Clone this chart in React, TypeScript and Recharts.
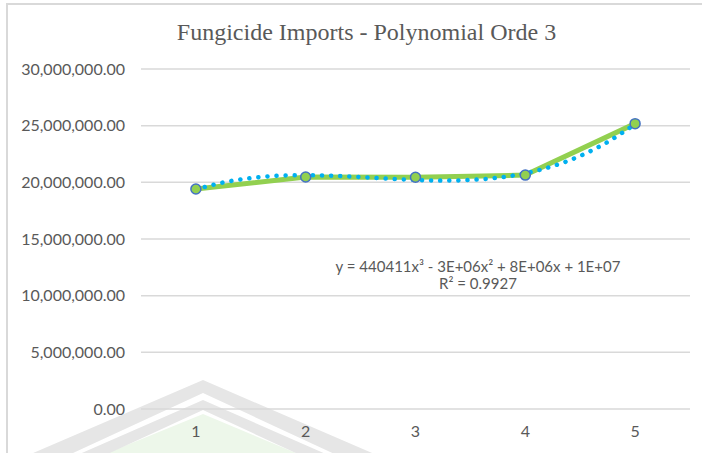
import React from 'react';
import { LineChart, Line, XAxis, YAxis, CartesianGrid } from 'recharts';

const periods = [1, 2, 3, 4, 5];
const imports = [19410000, 20470000, 20450000, 20640000, 25180000];

// dotted polynomial (order 3) trendline, read at quarter steps
const trendX = [1, 1.25, 1.5, 1.75, 2, 2.25, 2.5, 2.75, 3, 3.25, 3.5, 3.75, 4, 4.25, 4.5, 4.75, 5];
const trendY = [
  19370000, 19990000, 20380000, 20580000, 20630000, 20580000, 20460000, 20320000, 20210000,
  20150000, 20210000, 20410000, 20800000, 21430000, 22330000, 23560000, 25140000,
];

const yTicks = [0, 5000000, 10000000, 15000000, 20000000, 25000000, 30000000];

const equation = 'y = 440411x³ - 3E+06x² + 8E+06x + 1E+07';
const rSquared = 'R² = 0.9927';

const rows = trendX.map((x, i) => {
  const k = periods.indexOf(x);
  return { x, trend: trendY[i], imports: k >= 0 ? imports[k] : null };
});

const fmt = (v: number) =>
  v.toLocaleString('en-US', { minimumFractionDigits: 2, maximumFractionDigits: 2 });

const labelFont = 'Lato, "Open Sans", sans-serif';

// faint page watermark behind the chart
const Watermark = () => (
  <svg width={702} height={453} style={{ position: 'absolute', left: 0, top: 0 }}>
    <polygon points="203,414 420,505 -20,505" fill="#edf7ea" />
    <polygon points="203,380 430,478 410,489 203,393 -5,489 -25,478" fill="#e6e6e6" />
    <polygon points="203,400 410,491 395,499 203,410 10,499 -5,491" fill="#e6e6e6" />
  </svg>
);

export default function App() {
  return (
    <div style={{ position: 'absolute', left: 0, top: 0, width: 702, height: 453, background: '#fff', overflow: 'hidden' }}>
      <Watermark />
      <div
        style={{
          position: 'absolute', left: 6, top: 3, width: 720, height: 500,
          borderLeft: '2px solid #d9d9d9', borderTop: '2px solid #d9d9d9',
        }}
      />
      <div
        style={{
          position: 'absolute', left: 0, top: 19, width: 733, textAlign: 'center',
          fontFamily: '"Liberation Serif", "Times New Roman", serif', fontSize: 24,
          lineHeight: '26px', color: '#595959', whiteSpace: 'nowrap',
        }}
      >
        Fungicide Imports - Polynomial Orde 3
      </div>
      <div style={{ position: 'absolute', left: 0, top: 0 }}>
        <LineChart width={702} height={453} data={rows} margin={{ top: 69, right: 12, left: 0, bottom: 14 }}>
          <CartesianGrid vertical={false} stroke="#d9d9d9" strokeWidth={1.5} />
          <XAxis
            dataKey="x"
            type="number"
            domain={[0.5, 5.5]}
            ticks={periods}
            height={30}
            axisLine={false}
            tickLine={false}
            tickMargin={11}
            tick={{ fill: '#595959', fontSize: 16, fontFamily: labelFont }}
          />
          <YAxis
            domain={[0, 30000000]}
            ticks={yTicks}
            width={141}
            axisLine={false}
            tickLine={false}
            tickMargin={10}
            tickFormatter={fmt}
            tick={{ fill: '#595959', fontSize: 16, fontFamily: labelFont }}
          />
          <Line
            dataKey="imports"
            stroke="#92d050"
            strokeWidth={5}
            connectNulls
            dot={{ r: 5, fill: '#92d050', stroke: '#4472c4', strokeWidth: 1.5 }}
            isAnimationActive={false}
          />
          <Line
            dataKey="trend"
            type="monotone"
            stroke="#00b0f0"
            strokeWidth={4.5}
            strokeDasharray="0.1 9"
            strokeLinecap="round"
            dot={false}
            isAnimationActive={false}
          />
        </LineChart>
      </div>
      <div
        style={{
          position: 'absolute', left: 328, top: 258, width: 300, textAlign: 'center',
          fontFamily: labelFont, fontSize: 15, lineHeight: '17px', color: '#595959',
          whiteSpace: 'nowrap',
        }}
      >
        <div style={{ height: 17 }}>{equation}</div>
        <div style={{ height: 17 }}>{rSquared}</div>
      </div>
    </div>
  );
}
